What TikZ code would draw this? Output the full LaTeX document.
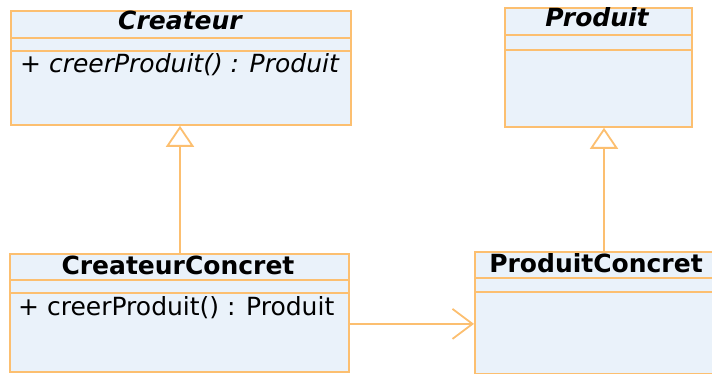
\documentclass[tikz,border=0pt]{standalone}
\usepackage{fontspec}
\setmainfont{DejaVu Sans}
\usepackage{xcolor}
\usetikzlibrary{arrows.meta,positioning,calc}

\definecolor{umlline}{RGB}{252,191,112}
\definecolor{umlfill}{RGB}{234,242,250}

\begin{document}
\begin{tikzpicture}[
    x=1pt, y=-1pt,
    cls/.style={draw=umlline, fill=umlfill, line width=1.8pt, anchor=north west,
                inner sep=0pt, minimum height=#1},
    sep/.style={draw=umlline, line width=1.8pt},
    title/.style={anchor=base, inner sep=0pt, font=\fontsize{25}{29}\selectfont\bfseries},
    meth/.style={anchor=base west, inner sep=0pt, font=\fontsize{25}{29}\selectfont},
    inh/.style={draw=umlline, line width=1.8pt,
                -{Triangle[open, length=21pt, width=28pt, fill=white]}},
    assoc/.style={draw=umlline, line width=1.8pt,
                  -{Straight Barb[length=20pt, width=30pt]}},
  ]
    \useasboundingbox (0,0) rectangle (712,374);
    \clip (0,0) rectangle (712,374);

    % abstract classes
    \node[cls=114pt, minimum width=340pt] (crea) at (10,10) {};
    \draw[sep] ([yshift=-28pt]crea.north west) -- ([yshift=-28pt]crea.north east);
    \draw[sep] ([yshift=-41pt]crea.north west) -- ([yshift=-41pt]crea.north east);
    \node[title, font=\fontsize{25}{29}\selectfont\bfseries\itshape] (creaname) at (180,30) {Createur};
    \node[meth, font=\fontsize{25}{29}\selectfont\itshape] (creameth) at (20,73)
      {+ creerProduit() : Produit};

    \node[cls=119pt, minimum width=187pt] (prod) at (504,7) {};
    \draw[sep] ([yshift=-28pt]prod.north west) -- ([yshift=-28pt]prod.north east);
    \draw[sep] ([yshift=-43pt]prod.north west) -- ([yshift=-43pt]prod.north east);
    \node[title, font=\fontsize{25}{29}\selectfont\bfseries\itshape] (prodname) at (597,27) {Produit};

    % concrete classes
    \node[cls=118pt, minimum width=339pt] (ccrea) at (9,253) {};
    \draw[sep] ([yshift=-27pt]ccrea.north west) -- ([yshift=-27pt]ccrea.north east);
    \draw[sep] ([yshift=-40pt]ccrea.north west) -- ([yshift=-40pt]ccrea.north east);
    \node[title] (ccreaname) at (178,274) {CreateurConcret};
    \node[meth] (ccreameth) at (18,315) {+ creerProduit() : Produit};

    \node[cls=122pt, minimum width=244pt] (cprod) at (474,251) {};
    \draw[sep] ([yshift=-27pt]cprod.north west) -- ([yshift=-27pt]cprod.north east);
    \draw[sep] ([yshift=-41pt]cprod.north west) -- ([yshift=-41pt]cprod.north east);
    \node[title] (cprodname) at (596,272) {ProduitConcret};

    % inheritance
    \draw[inh] (ccrea.north -| creaname) -- (crea.south -| creaname);
    \draw[inh] ([xshift=7pt]cprod.north -| prodname) -- ([xshift=7pt]prod.south -| prodname);

    % association
    \draw[assoc] ([yshift=-11pt]ccrea.east) coordinate (a) -- (a -| cprod.west);
\end{tikzpicture}
\end{document}
